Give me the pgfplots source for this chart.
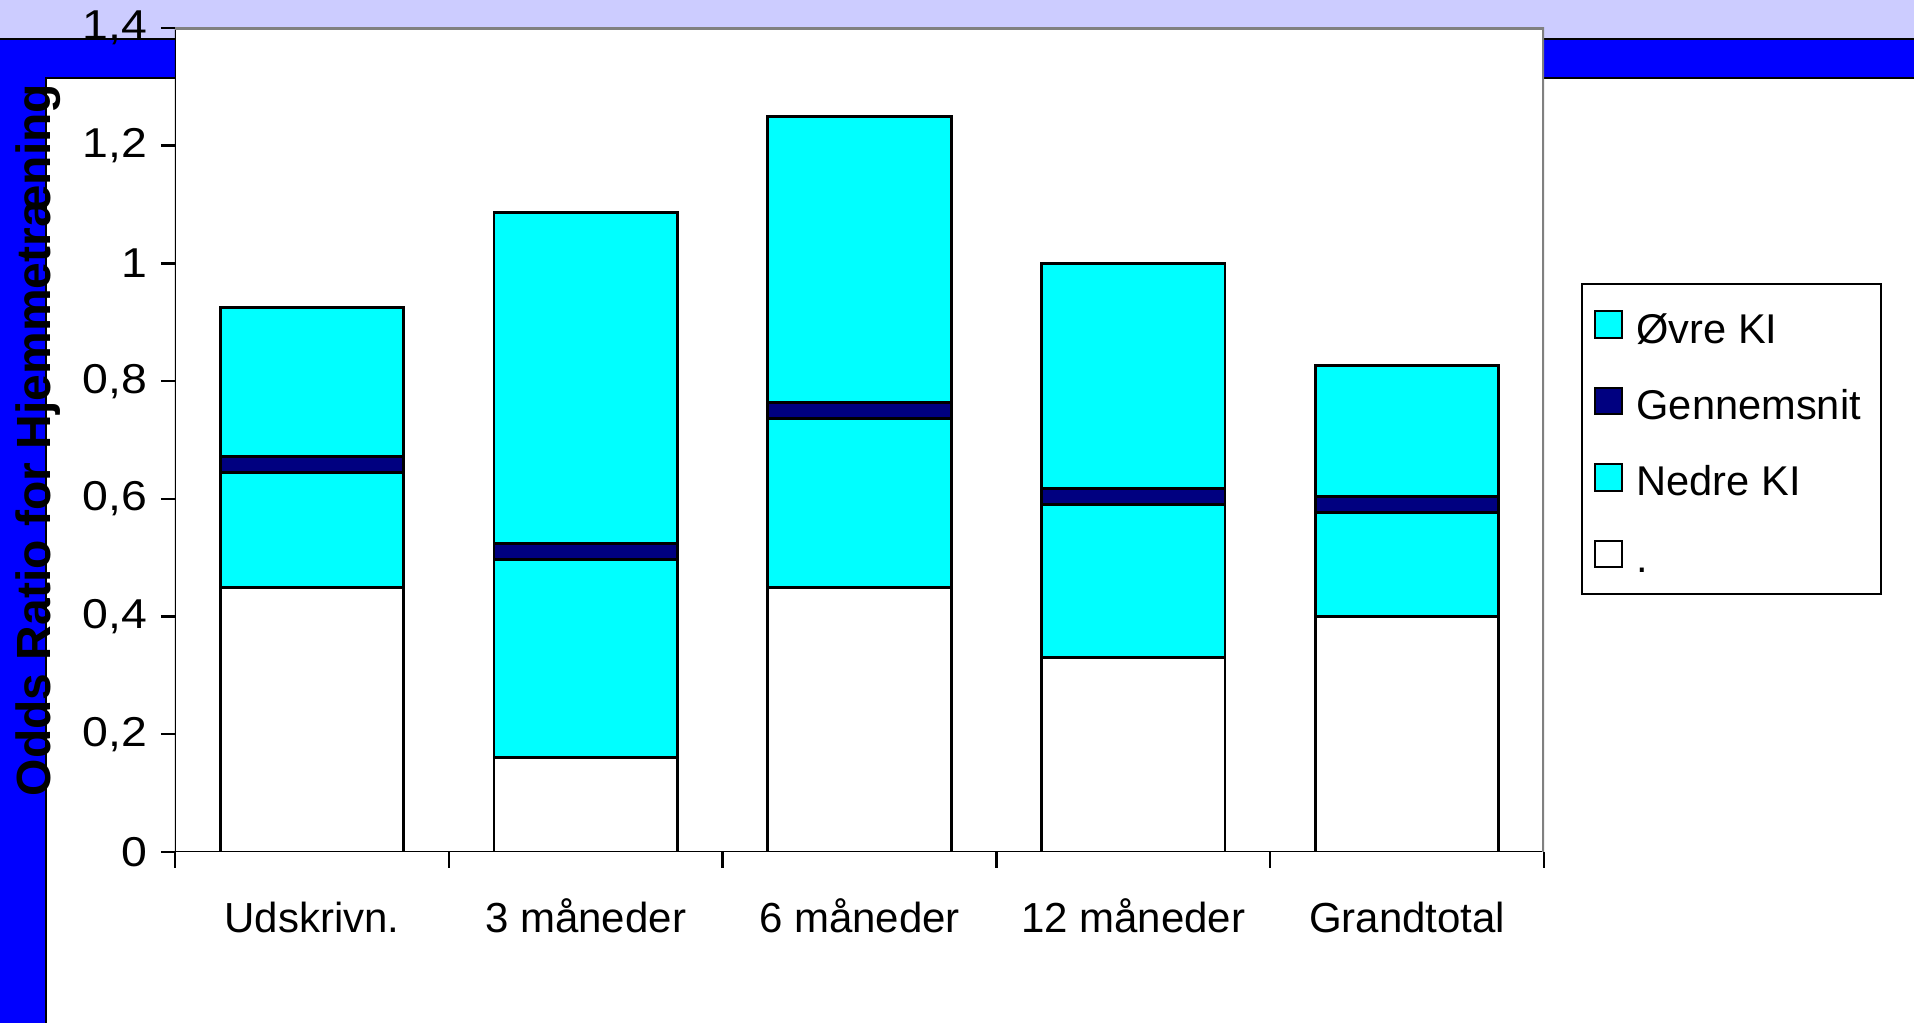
\documentclass[border=0pt]{standalone}
\usepackage{pgfplots}
\pgfplotsset{compat=1.18}
\usepackage{fontspec}
\setmainfont{Liberation Sans}
\definecolor{lav}{HTML}{CCCCFF}
\definecolor{bblue}{HTML}{0000FF}
\definecolor{cy}{HTML}{00FFFF}
\definecolor{nv}{HTML}{000080}
\newcommand{\ls}{\rule{0pt}{10.7pt}}
\begin{document}
\begin{tikzpicture}
\fill[white] (0pt,0pt) rectangle (478.5pt,255.75pt);
\fill[lav] (0pt,246pt) rectangle (478.5pt,255.75pt);
\fill[bblue] (0pt,236.25pt) rectangle (478.5pt,246pt);
\fill[bblue] (0pt,0pt) rectangle (11.5pt,246pt);
\draw[line width=0.5pt] (0pt,246pt) -- (478.5pt,246pt);
\draw[line width=0.5pt] (11.5pt,0pt) -- (11.5pt,236.25pt) -- (478.5pt,236.25pt);
\begin{axis}[
  at={(43.75pt,42.75pt)}, anchor=south west,
  scale only axis, width=342.25pt, height=206pt,
  ybar stacked, bar width=0.67,
  xmin=-0.5, xmax=4.5, ymin=0, ymax=1.4,
  axis background/.style={fill=white},
  axis line style={draw=none},
  tick pos=left, tick align=outside,
  major tick length=3.5pt, minor tick length=4pt,
  xtick={0,1,2,3,4},
  xticklabels={Udskrivn., 3 måneder, 6 måneder, 12 måneder, Grandtotal},
  minor xtick={-0.5,0.5,1.5,2.5,3.5,4.5},
  major x tick style={draw=none},
  minor x tick style={black, line width=0.6pt},
  ytick={0,0.2,0.4,0.6,0.8,1,1.2,1.4},
  y tick style={black, line width=0.6pt},
  xticklabel style={font=\fontsize{10.5}{12}\selectfont, text height=8.4pt, text depth=2.5pt, yshift=-4.7pt},
  yticklabel style={font=\fontsize{11.6}{13}\selectfont, yscale=0.9, /pgf/number format/.cd, fixed, precision=1, use comma},
  /pgf/number format/assume math mode=true,
  ylabel={Odds Ratio for Hjemmetræning},
  ylabel style={at={(axis description cs:-0.0996,0.5)}, anchor=center, font=\fontsize{12}{14}\selectfont\bfseries},
  legend style={at={(1.027,0.6905)}, anchor=north west, draw=black, line width=0.6pt,
    font=\fontsize{10.4}{12}\selectfont, inner xsep=3pt, inner ysep=2pt, row sep=2.9pt,
    cells={anchor=west}, /tikz/every odd column/.append style={column sep=1.5pt}},
  reverse legend,
  legend image code/.code={\draw[#1, draw=black, line width=0.5pt] (0pt,-3.3pt) rectangle (6.6pt,3.3pt);},
]
\addplot[fill=white, draw=black, line width=0.7pt] coordinates {(0,0.45) (1,0.16) (2,0.45) (3,0.33) (4,0.40)};
\addplot[fill=cy, draw=black, line width=0.7pt] coordinates {(0,0.195) (1,0.337) (2,0.287) (3,0.26) (4,0.177)};
\addplot[fill=nv, draw=black, line width=0.7pt] coordinates {(0,0.027) (1,0.027) (2,0.027) (3,0.027) (4,0.027)};
\addplot[fill=cy, draw=black, line width=0.7pt] coordinates {(0,0.253) (1,0.563) (2,0.486) (3,0.383) (4,0.222)};
\legend{\ls., \ls Nedre KI, \ls Gennemsnit, \ls Øvre KI}
\draw[gray, line width=0.8pt] (rel axis cs:0,1) -- (rel axis cs:1,1) -- (rel axis cs:1,0);
\draw[black, line width=0.6pt] (rel axis cs:0,1) -- (rel axis cs:0,0) -- (rel axis cs:1,0);
\end{axis}
\pgfresetboundingbox
\path[use as bounding box] (0pt,0pt) rectangle (478.5pt,255.75pt);
\end{tikzpicture}
\end{document}
